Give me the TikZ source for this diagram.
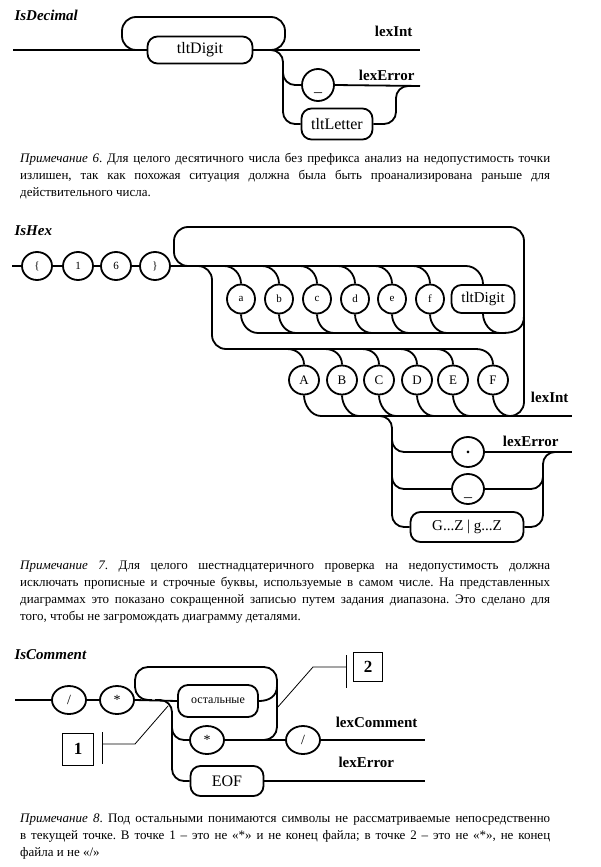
\documentclass[tikz,border=0pt]{standalone}
\usepackage{fontspec}
\setmainfont{Liberation Serif}
\usetikzlibrary{shapes.geometric}
\newcommand\fsz[1]{\fontsize{#1}{#1}\selectfont}
\tikzset{
  ln/.style={line width=1.8pt},
  thinln/.style={line width=0.8pt},
  circ/.style={draw, line width=1.8pt, ellipse, minimum width=30pt, minimum height=28pt, inner sep=0pt},
  rbox/.style={draw, line width=1.8pt, rounded corners=10pt, minimum height=28pt, inner sep=0pt},
  lowtext/.style={text height=14pt, text depth=0pt},
  lbl/.style={font=\fsz{15}\bfseries},
  ttl/.style={font=\fsz{15}\bfseries\itshape, anchor=west},
  notetext/.style={anchor=base west, inner sep=0pt, text width=530pt, align=justify, font=\fontsize{13}{17}\selectfont\frenchspacing},
  callbox/.style={draw, line width=0.8pt, inner sep=0pt, font=\fsz{17}\bfseries}
}
\begin{document}
\begin{tikzpicture}[x=1pt,y=-1pt]
\fill[white] (0,0) rectangle (601,867);
\useasboundingbox (0,0) rectangle (601,867);

% ================= IsDecimal =================
\node[ttl] (t1) at (11,15) {IsDecimal};
\node[rbox, minimum width=105pt, minimum height=27pt, font=\fsz{16}] (d1) at (200,50) {tltDigit};
\node[circ, lowtext, minimum width=32pt, minimum height=32pt, font=\fsz{16}] (u1) at (318,85) {\_};
\node[rbox, minimum width=71pt, minimum height=31pt, font=\fsz{16}] (l1) at (337,124) {tltLetter};
\coordinate (s0) at (13,50);
\coordinate (e1) at (420,50);
\coordinate (e2) at (420,86);
\draw[ln] (s0) -- (d1.west);
\draw[ln] (d1.east) -- (e1);
\draw[ln, rounded corners=14pt] (143,50) -| (122,17) -| (285,50) -- (265,50);
\draw[ln, rounded corners=12pt] (262,50) -| (283,124) -- (l1.west);
\draw[ln, rounded corners=12pt] (283,70) |- (u1.west);
\draw[ln] (u1.east) -- (e2);
\draw[ln, rounded corners=12pt] (l1.east) -| (396,86) -- (410,86);
\node[lbl, anchor=base east] at (416,37) {lexInt};
\node[lbl, anchor=base east] at (418,81) {lexError};

\node[notetext] at (20,162) {\textit{Примечание 6}. Для целого десятичного числа без префикса анализ на недопустимость точки\linebreak излишен, так как похожая ситуация должна была быть проанализирована раньше для\linebreak действительного числа.};

% ================= IsHex =================
\node[ttl] (t2) at (11,231) {IsHex};
\node[circ, font=\fsz{11}] (c1) at (37,266) {\{};
\node[circ, font=\fsz{11}] (c2) at (78,266) {1};
\node[circ, font=\fsz{11}] (c3) at (116,266) {6};
\node[circ, font=\fsz{11}] (c4) at (155,266) {\}};
\coordinate (hs) at (12,266);
\draw[ln] (hs) -- (c1.west);
\draw[ln] (c1.east) -- (c2.west);
\draw[ln] (c2.east) -- (c3.west);
\draw[ln] (c3.east) -- (c4.west);
\draw[ln] (c4.east) -- (466,266);
% outer repetition loop
\draw[ln, rounded corners=14pt] (190,266) -| (174,227) -| (524,416) -- (500,416);
% inner group a..f, tltDigit
\foreach \n/\x in {a/241, b/279, c/317, d/355, e/392, f/430} {
  \node[circ, minimum width=28pt, minimum height=29pt, font=\fsz{11}] (h\n) at (\x,299) {\n};
  \draw[ln] (\x-17,266) .. controls +(10,0) and +(0,-9) .. (h\n.north);
  \draw[ln] (h\n.south) .. controls +(0,9) and +(-10,0) .. (\x+17,333);
}
\node[rbox, minimum width=63pt, minimum height=28pt, font=\fsz{15}] (hd) at (483,299) {tltDigit};
\draw[ln] (466,266) .. controls +(10,0) and +(0,-9) .. (hd.north);
\draw[ln] (hd.south) .. controls +(0,9) and +(-10,0) .. (500,333);
\draw[ln] (258,333) -- (503,333) .. controls (516,333) and (524,328) .. (524,316);
% outer group A..F
\draw[ln, rounded corners=14pt] (192,266) -| (212,349) -- (476,349);
\foreach \n/\x in {A/304, B/342, C/379, D/417, E/453, F/493} {
  \node[circ, minimum width=30pt, minimum height=29pt, font=\fsz{13}] (H\n) at (\x,380) {\n};
  \draw[ln] (\x-17,349) .. controls +(10,0) and +(0,-9) .. (H\n.north);
  \draw[ln] (H\n.south) .. controls +(0,9) and +(-10,0) .. (\x+17,416);
}
\coordinate (hx) at (572,416);
\draw[ln] (321,416) -- (hx);
\node[lbl, anchor=base east] at (572,402) {lexInt};
% error branch
\node[circ, minimum width=32pt, minimum height=30pt, font=\fsz{16}\bfseries] (dot) at (468,452) {.};
\node[circ, lowtext, minimum width=32pt, minimum height=30pt, font=\fsz{16}] (us2) at (468,489) {\_};
\node[rbox, minimum width=113pt, minimum height=30pt, font=\fsz{15}] (gz) at (467,527) {G...Z | g...Z};
\coordinate (hy) at (572,452);
\draw[ln, rounded corners=12pt] (378,416) -| (392,527) -- (gz.west);
\draw[ln, rounded corners=12pt] (392,440) |- (dot.west);
\draw[ln, rounded corners=12pt] (392,476) |- (us2.west);
\draw[ln] (dot.east) -- (hy);
\draw[ln, rounded corners=12pt] (gz.east) -| (543,452) -- (558,452);
\draw[ln, rounded corners=12pt] (us2.east) -| (543,468);
\node[lbl, anchor=base east] at (562,446) {lexError};

\node[notetext] at (20,569) {\textit{Примечание 7}. Для целого шестнадцатеричного проверка на недопустимость должна\linebreak исключать прописные и строчные буквы, используемые в самом числе. На представленных\linebreak диаграммах это показано сокращенной записью путем задания диапазона. Это сделано для\linebreak того, чтобы не загромождать диаграмму деталями.};

% ================= IsComment =================
\node[ttl] (t3) at (11,655) {IsComment};
\node[circ, minimum width=34pt, minimum height=28pt, font=\fsz{14}] (s1) at (69,700) {/};
\node[circ, minimum width=34pt, minimum height=28pt, font=\fsz{14}] (s2) at (117,700) {*};
\node[rbox, minimum width=80pt, minimum height=32pt, font=\fsz{12}] (ost) at (218,701) {остальные};
\node[circ, minimum width=34pt, minimum height=28pt, font=\fsz{14}] (s3) at (207,740) {*};
\node[circ, minimum width=34pt, minimum height=28pt, font=\fsz{14}] (s4) at (303,740) {/};
\node[rbox, minimum width=73pt, minimum height=30pt, font=\fsz{16}] (eof) at (227,781) {EOF};
\coordinate (cs) at (15,700);
\coordinate (ce1) at (425,740);
\coordinate (ce2) at (425,781);
\draw[ln] (cs) -- (s1.west);
\draw[ln] (s1.east) -- (s2.west);
\draw[ln] (s2.east) -- (ost.west);
\draw[ln, rounded corners=13pt] (152,700) -| (135,667) -| (277,740) -- (262,740);
\draw[ln] (ost.east) .. controls (268,701) and (277,697) .. (277,686);
\draw[ln, rounded corners=12pt] (155,700) -| (172,781) -- (eof.west);
\draw[ln, rounded corners=12pt] (172,722) |- (s3.west);
\draw[ln] (s3.east) -- (s4.west);
\draw[ln] (s4.east) -- (ce1);
\draw[ln] (eof.east) -- (ce2);
\node[lbl, anchor=base east] at (421,727) {lexComment};
\node[lbl, anchor=base west] at (335,767) {lexError};
% callouts
\node[callbox, minimum width=31pt, minimum height=32pt] (n1) at (78,749) {1};
\draw[thinln] (102,732) -- (102,764);
\draw[thinln] (102,744) -- (135,744) -- (168,706);
\node[callbox, minimum width=29pt, minimum height=29pt] (n2) at (368,667) {2};
\draw[thinln] (346,655) -- (346,688);
\draw[thinln] (346,667) -- (313,667) -- (277,708);

\node[notetext] at (20,822) {\textit{Примечание 8}. Под остальными понимаются символы не рассматриваемые непосредственно\linebreak в текущей точке. В точке 1 – это не «*» и не конец файла; в точке 2 – это не «*», не конец\linebreak файла и не «/»};
\end{tikzpicture}
\end{document}
